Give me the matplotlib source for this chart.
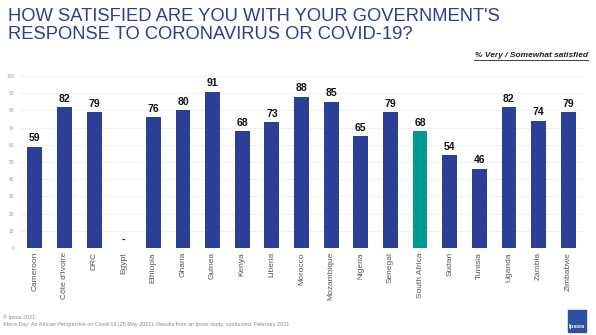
import matplotlib.pyplot as plt
from matplotlib.patches import Rectangle

countries = ['Cameroon', "Côte d'Ivoire", 'DRC', 'Egypt', 'Ethiopia', 'Ghana', 'Guinea',
             'Kenya', 'Liberia', 'Morocco', 'Mozambique', 'Nigeria', 'Senegal',
             'South Africa', 'Sudan', 'Tunisia', 'Uganda', 'Zambia', 'Zimbabwe']
values = [59, 82, 79, 0, 76, 80, 91, 68, 73, 88, 85, 65, 79, 68, 54, 46, 82, 74, 79]
labels = ['59', '82', '79', '-', '76', '80', '91', '68', '73', '88', '85', '65', '79',
          '68', '54', '46', '82', '74', '79']
highlight = 'South Africa'

blue = '#2c3f97'
teal = '#009a93'
plt.rcParams['font.family'] = ['Liberation Sans', 'DejaVu Sans']

fig = plt.figure(figsize=(5.96, 3.35), dpi=100)
ax = fig.add_axes([0.0336, 0.26, 0.9446, 0.513])

colors = [teal if c == highlight else blue for c in countries]
x = range(len(countries))
ax.bar(x, values, width=0.5, color=colors, zorder=3)
for i, (v, lab) in enumerate(zip(values, labels)):
    ax.text(i, v + 2, lab, ha='center', va='bottom', fontsize=7.5, fontweight='bold', color='#111111')

ax.set_xlim(-0.5, 18.5)
ax.set_ylim(0, 100)
ax.set_yticks(range(0, 101, 10))
ax.set_xticks(list(x))
ax.set_xticklabels(countries, rotation=90, fontsize=6, color='#555555')
ax.tick_params(axis='y', labelsize=3.5, colors='#999999', length=0, pad=4)
ax.tick_params(axis='x', length=0, pad=3)
ax.grid(axis='y', color='#eeeeee', linewidth=0.6, zorder=0)
for s in ax.spines.values():
    s.set_visible(False)
ax.axhline(0, color='#dddddd', linewidth=0.6, zorder=2)

fig.text(0.013, 0.975, "HOW SATISFIED ARE YOU WITH YOUR GOVERNMENT'S\nRESPONSE TO CORONAVIRUS OR COVID-19?",
         ha='left', va='top', fontsize=13.2, color='#2d3d94', linespacing=1.08)
fig.text(0.987, 0.825, '% Very / Somewhat satisfied', ha='right', va='bottom', fontsize=6,
         fontweight='bold', fontstyle='italic', color='#222222')
fig.add_artist(plt.Line2D([0.795, 0.987], [0.822, 0.822], color='#222222', linewidth=0.6))

fig.text(0.005, 0.045, '© Ipsos 2021', fontsize=3.9, color='#888888', va='bottom')
fig.text(0.005, 0.024, 'Africa Day: An African Perspective on Covid-19 (25 May 2021). Results from an Ipsos study, conducted: February 2021',
         fontsize=3.9, color='#888888', va='bottom')

fig.add_artist(Rectangle((0.953, 0.01), 0.031, 0.066, transform=fig.transFigure, color='#2a52a0'))
fig.text(0.9685, 0.018, 'Ipsos', ha='center', va='bottom', fontsize=4.5, color='white', fontweight='bold')

fig.savefig('out.png', dpi=100)
